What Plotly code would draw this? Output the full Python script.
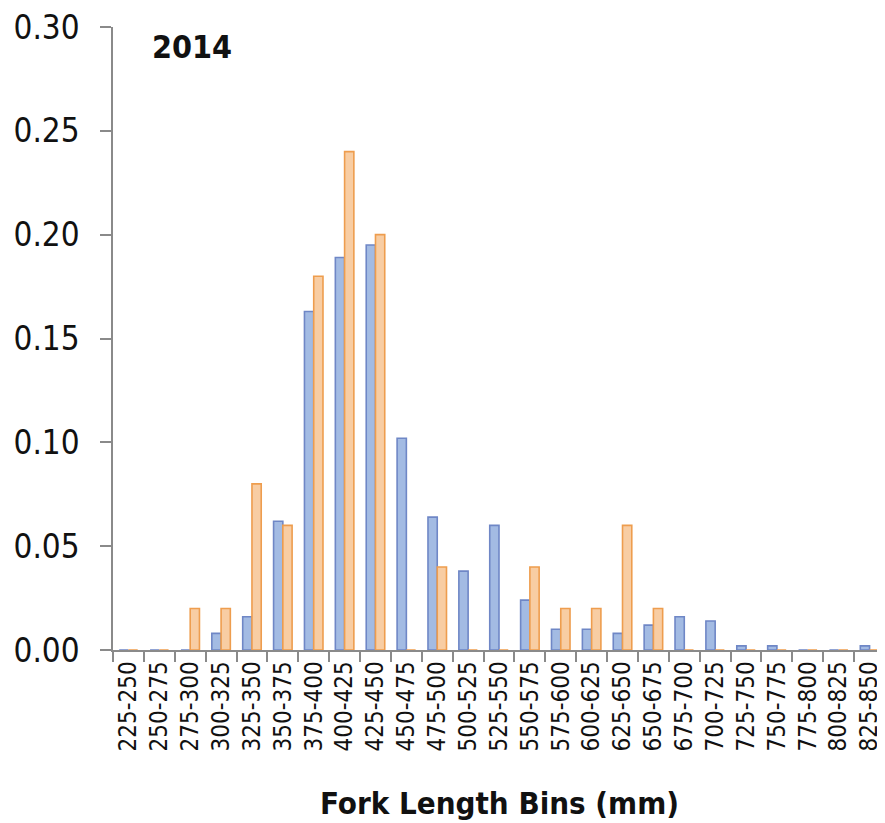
import plotly.graph_objects as go

bins = ["225-250", "250-275", "275-300", "300-325", "325-350", "350-375", "375-400",
        "400-425", "425-450", "450-475", "475-500", "500-525", "525-550", "550-575",
        "575-600", "600-625", "625-650", "650-675", "675-700", "700-725", "725-750",
        "750-775", "775-800", "800-825", "825-850"]

blue_vals = [0, 0, 0, 0.008, 0.016, 0.062, 0.163, 0.189, 0.195, 0.102, 0.064, 0.038,
             0.060, 0.024, 0.010, 0.010, 0.008, 0.012, 0.016, 0.014, 0.002, 0.002,
             0, 0, 0.002]

orange_vals = [0, 0, 0.02, 0.02, 0.08, 0.06, 0.18, 0.24, 0.20, 0, 0.04, 0, 0,
               0.04, 0.02, 0.02, 0.06, 0.02, 0, 0, 0, 0, 0, 0, 0]

y_ticks = [0.0, 0.05, 0.10, 0.15, 0.20, 0.25, 0.30]

FONT = "DejaVu Sans Condensed, Liberation Sans Narrow, Arial Narrow, sans-serif"

fig = go.Figure()
fig.add_trace(go.Bar(x=bins, y=blue_vals, name="A",
                     marker=dict(color="#A3BBE3", line=dict(color="#6F87C6", width=1.6))))
fig.add_trace(go.Bar(x=bins, y=orange_vals, name="B",
                     marker=dict(color="#F8CDA3", line=dict(color="#EE9D4E", width=1.6))))

# page has an 8px body margin, so the figure is sized/offset to compensate
fig.update_layout(
    width=877, height=815,
    margin=dict(l=105, r=0, t=19, b=173),
    paper_bgcolor="white", plot_bgcolor="white",
    barmode="group", bargap=0.4, bargroupgap=0,
    showlegend=False,
    font=dict(family=FONT, color="#111"),
    annotations=[
        dict(text="<b>2014</b>", xref="paper", yref="paper", x=0.048, y=0.968,
             xanchor="left", yanchor="middle", showarrow=False,
             font=dict(family=FONT, size=32, color="#111")),
        dict(text="<b>Fork Length Bins (mm)</b>", xref="paper", yref="paper", x=0.5, y=-0.2456,
             xanchor="center", yanchor="middle", showarrow=False,
             font=dict(family=FONT, size=31, color="#111")),
    ],
)
fig.update_xaxes(
    type="category", range=[-0.5, 24.5], automargin=False,
    tickmode="linear", dtick=1,
    showline=True, linecolor="#8A8A8A", linewidth=1.5,
    ticks="outside", tickson="boundaries", ticklen=10, tickcolor="#8A8A8A", tickwidth=1.5,
    tickangle=-90, tickfont=dict(family=FONT, size=24, color="#111"),
    showgrid=False,
)
fig.update_yaxes(
    range=[0, 0.3], tickvals=y_ticks, tickformat=".2f", automargin=False,
    ticklabeloverflow="allow",
    showline=True, linecolor="#8A8A8A", linewidth=1.5,
    ticks="outside", ticklen=11, tickcolor="#8A8A8A", tickwidth=1.5,
    tickfont=dict(family=FONT, size=33, color="#111"),
    ticklabelstandoff=14,
    showgrid=False, zeroline=False,
)

fig.write_html("out.html")
